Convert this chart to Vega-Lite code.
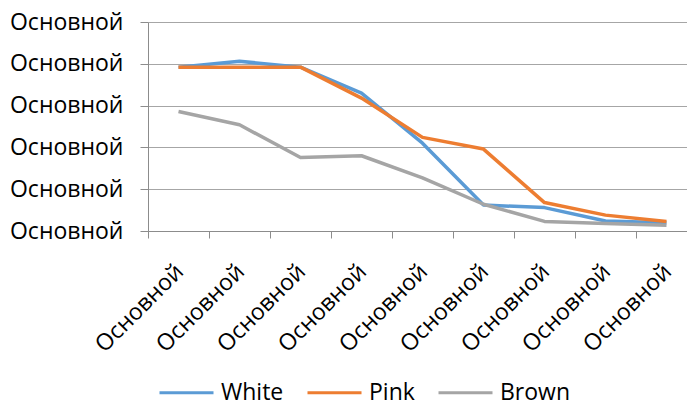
{
  "$schema": "https://vega.github.io/schema/vega-lite/v6.json",
  "autosize": "none",
  "width": 549,
  "height": 209,
  "padding": {"left": 148, "top": 22, "right": 0, "bottom": 170},
  "background": "white",
  "config": {
    "font": "Open Sans",
    "view": {"stroke": null},
    "axis": {"labelFont": "Open Sans", "labelFontSize": 23, "labelColor": "#000000", "domainColor": "#8c8c8c", "tickColor": "#8c8c8c", "gridColor": "#a6a6a6", "domainWidth": 1, "tickWidth": 1, "gridWidth": 1},
    "legend": {"labelFont": "Open Sans", "labelFontSize": 23, "labelColor": "#000000"}
  },
  "data": {
    "values": [
      {"cat": 1, "series": "White", "value": 3.92},
      {"cat": 2, "series": "White", "value": 4.06},
      {"cat": 3, "series": "White", "value": 3.92},
      {"cat": 4, "series": "White", "value": 3.30},
      {"cat": 5, "series": "White", "value": 2.10},
      {"cat": 6, "series": "White", "value": 0.62},
      {"cat": 7, "series": "White", "value": 0.56},
      {"cat": 8, "series": "White", "value": 0.24},
      {"cat": 9, "series": "White", "value": 0.20},
      {"cat": 1, "series": "Pink", "value": 3.92},
      {"cat": 2, "series": "Pink", "value": 3.92},
      {"cat": 3, "series": "Pink", "value": 3.92},
      {"cat": 4, "series": "Pink", "value": 3.18},
      {"cat": 5, "series": "Pink", "value": 2.24},
      {"cat": 6, "series": "Pink", "value": 1.96},
      {"cat": 7, "series": "Pink", "value": 0.68},
      {"cat": 8, "series": "Pink", "value": 0.38},
      {"cat": 9, "series": "Pink", "value": 0.23},
      {"cat": 1, "series": "Brown", "value": 2.86},
      {"cat": 2, "series": "Brown", "value": 2.54},
      {"cat": 3, "series": "Brown", "value": 1.76},
      {"cat": 4, "series": "Brown", "value": 1.80},
      {"cat": 5, "series": "Brown", "value": 1.27},
      {"cat": 6, "series": "Brown", "value": 0.64},
      {"cat": 7, "series": "Brown", "value": 0.23},
      {"cat": 8, "series": "Brown", "value": 0.18},
      {"cat": 9, "series": "Brown", "value": 0.14}
    ]
  },
  "mark": {"type": "line", "strokeWidth": 3.5, "strokeJoin": "round"},
  "encoding": {
    "x": {
      "field": "cat", "type": "ordinal",
      "scale": {"paddingInner": 0, "paddingOuter": 0},
      "axis": {"title": null, "labelExpr": "datum.extra ? '' : 'Основной'", "labelAngle": -45, "tickBand": "extent", "grid": false, "tickSize": 7, "labelPadding": 22, "labelOffset": -7}
    },
    "y": {
      "field": "value", "type": "quantitative",
      "scale": {"domain": [0, 5], "nice": false},
      "axis": {"title": null, "values": [0, 1, 2, 3, 4, 5], "labelExpr": "'Основной'", "tickSize": 8, "labelPadding": 17, "grid": true}
    },
    "color": {
      "field": "series", "type": "nominal",
      "scale": {"domain": ["White", "Pink", "Brown"], "range": ["#5b9bd5", "#ed7d31", "#a5a5a5"]},
      "legend": {"title": null, "orient": "none", "legendX": 10, "legendY": 342, "direction": "horizontal", "symbolType": "stroke", "symbolSize": 2916, "symbolStrokeWidth": 3, "labelOffset": 6, "columnPadding": 17}
    }
  }
}
